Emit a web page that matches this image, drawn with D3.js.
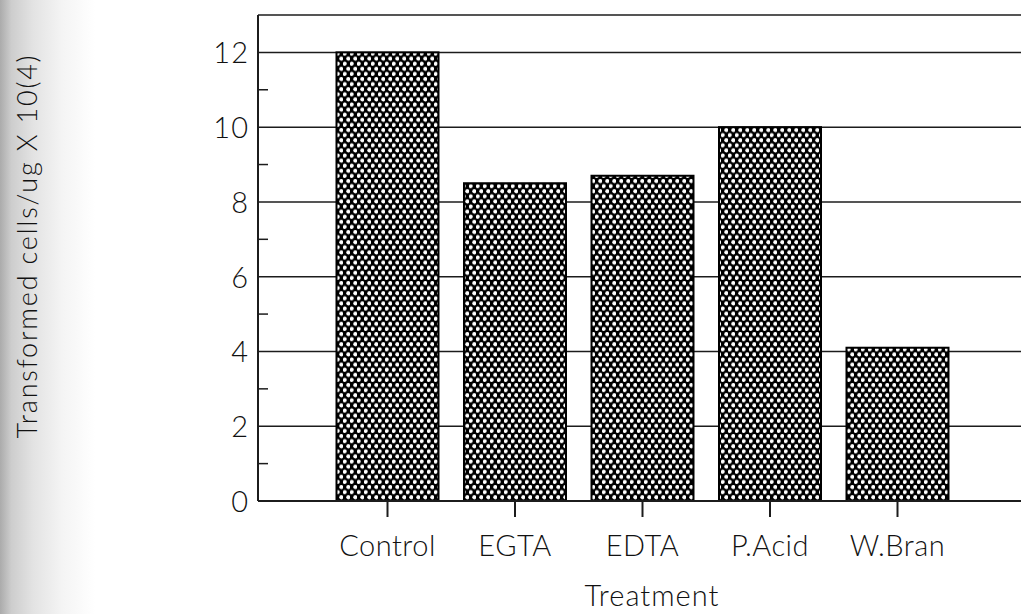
<!DOCTYPE html>
<html>
<head>
<meta charset="utf-8">
<script src="https://cdn.jsdelivr.net/npm/d3@7"></script>
<style>
  html, body { margin: 0; padding: 0; background: #fff; }
  svg { display: block; }
  text { font-family: Lato, "Open Sans", sans-serif; font-weight: 300; fill: #111; }
</style>
</head>
<body>
<svg id="chart" width="1021" height="614"></svg>
<script>
// Transformation efficiency by treatment
const categories = ["Control", "EGTA", "EDTA", "P.Acid", "W.Bran"];
const values = [12, 8.5, 8.7, 10, 4.1];
const yMajorTicks = [0, 2, 4, 6, 8, 10, 12];
const yMinorTicks = [1, 3, 5, 7, 9, 11];
const yTitle = "Transformed cells/ug X 10(4)";
const xTitle = "Treatment";

const W = 1021, H = 614;
const plot = { left: 258, right: 1021, top: 15, bottom: 501 };

const svg = d3.select("#chart");
const defs = svg.append("defs");

// faint grey shading along the left edge of the sheet
const grad = defs.append("linearGradient").attr("id", "edgeShade")
  .attr("x1", "0").attr("x2", "1").attr("y1", "0").attr("y2", "0");
[["0%", "#ababab"], ["12%", "#cdcdcd"], ["35%", "#e3e3e3"], ["65%", "#f4f4f4"], ["100%", "#ffffff"]]
  .forEach(([o, c]) => grad.append("stop").attr("offset", o).attr("stop-color", c));
svg.append("rect").attr("x", 0).attr("y", 0).attr("width", 95).attr("height", H)
  .attr("fill", "url(#edgeShade)");

// dotted halftone fill for the bars
const tw = 7, th = 10.2;
const pat = defs.append("pattern").attr("id", "dots")
  .attr("patternUnits", "userSpaceOnUse")
  .attr("width", tw).attr("height", th);
pat.append("rect").attr("width", tw).attr("height", th).attr("fill", "#000");
[[tw / 4, th / 4], [3 * tw / 4, 3 * th / 4]].forEach(([cx, cy]) => {
  pat.append("circle").attr("cx", cx).attr("cy", cy).attr("r", 2.0).attr("fill", "#fff");
});

const y = d3.scaleLinear().domain([0, 13]).range([plot.bottom, plot.top]);
const x = d3.scaleBand().domain(categories)
  .range([260, 1025]).paddingInner(0.2).paddingOuter(0.6);

const lineColor = "#1c1c1c";

// horizontal grid at the labelled values and the frame top
svg.append("g").selectAll("line")
  .data(yMajorTicks.filter(v => v > 0).concat([13]))
  .join("line")
  .attr("x1", plot.left).attr("x2", plot.right)
  .attr("y1", d => y(d)).attr("y2", d => y(d))
  .attr("stroke", lineColor).attr("stroke-width", 1.5);

// bars
svg.append("g").selectAll("rect")
  .data(categories.map((c, i) => ({ c, v: values[i] })))
  .join("rect")
  .attr("x", d => x(d.c))
  .attr("y", d => y(d.v))
  .attr("width", x.bandwidth())
  .attr("height", d => y(0) - y(d.v))
  .attr("fill", "url(#dots)")
  .attr("stroke", "#000").attr("stroke-width", 2);

// y axis: line, minor ticks pointing inward, labels
const yAxis = d3.axisLeft(y).tickValues(yMajorTicks).tickSize(0).tickPadding(9)
  .tickFormat(d3.format("d"));
const gy = svg.append("g").attr("transform", `translate(${plot.left},0)`).call(yAxis);
gy.select(".domain").remove();
gy.selectAll("text").attr("font-size", 29).attr("font-family", "Lato, sans-serif")
  .attr("font-weight", 300).attr("letter-spacing", 1)
  .attr("fill", "#111").attr("dy", "0.36em");
svg.append("line").attr("x1", plot.left).attr("x2", plot.left)
  .attr("y1", y(13)).attr("y2", y(0)).attr("stroke", lineColor).attr("stroke-width", 2);
svg.append("g").selectAll("line").data(yMinorTicks).join("line")
  .attr("x1", plot.left).attr("x2", plot.left + 10)
  .attr("y1", d => y(d)).attr("y2", d => y(d))
  .attr("stroke", lineColor).attr("stroke-width", 1.5);

// baseline
svg.append("line").attr("x1", plot.left).attr("x2", plot.right)
  .attr("y1", y(0)).attr("y2", y(0)).attr("stroke", lineColor).attr("stroke-width", 2);

// x axis ticks and category labels
const xAxis = d3.axisBottom(x).tickSize(16).tickPadding(18);
const gx = svg.append("g").attr("transform", `translate(0,${y(0)})`).call(xAxis);
gx.select(".domain").remove();
gx.selectAll(".tick line").attr("stroke", lineColor).attr("stroke-width", 2);
gx.selectAll("text").attr("font-size", 29).attr("font-family", "Lato, sans-serif")
  .attr("font-weight", 300).attr("letter-spacing", 0.5).attr("fill", "#111");

// axis titles
svg.append("text").attr("x", 652).attr("y", 606)
  .attr("text-anchor", "middle").attr("font-size", 29).attr("letter-spacing", 1)
  .text(xTitle);
svg.append("text")
  .attr("transform", `translate(37,246) rotate(-90)`)
  .attr("text-anchor", "middle").attr("font-size", 27).attr("letter-spacing", 1.8)
  .text(yTitle);
</script>
</body>
</html>
